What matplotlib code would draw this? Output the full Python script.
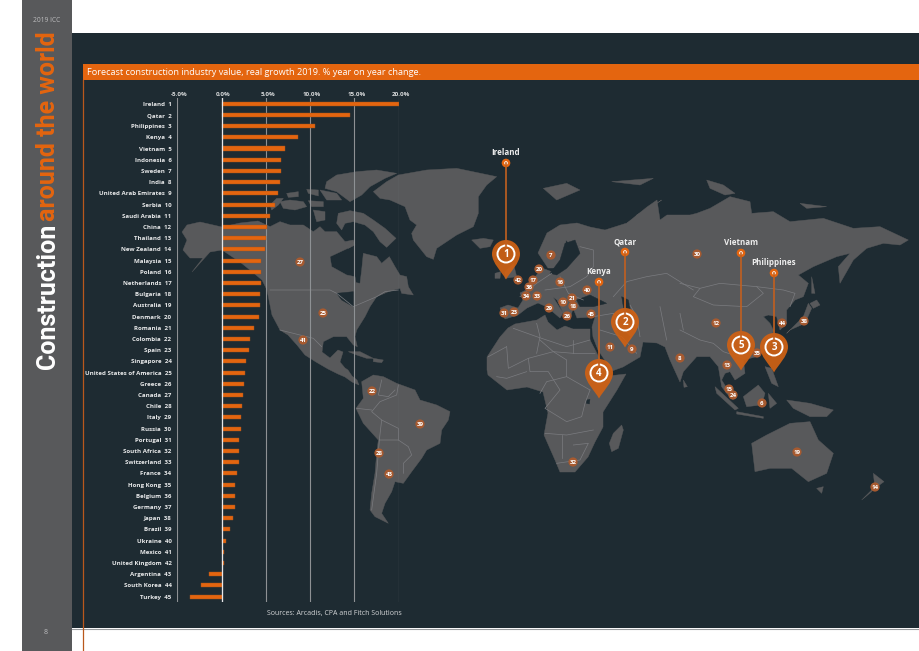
import matplotlib
matplotlib.use("Agg")
import matplotlib.pyplot as plt
from matplotlib.patches import Polygon, Circle, Rectangle, PathPatch
from matplotlib.path import Path
from matplotlib.transforms import ScaledTranslation

plt.rcParams['font.family'] = ['Open Sans', 'DejaVu Sans']

# ---------------------------
# Data
# ---------------------------

countries = ["Ireland", "Qatar", "Philippines", "Kenya", "Vietnam", "Indonesia", "Sweden", "India",
             "United Arab Emirates", "Serbia", "Saudi Arabia", "China", "Thailand", "New Zealand",
             "Malaysia", "Poland", "Netherlands", "Bulgaria", "Australia", "Denmark", "Romania",
             "Colombia", "Spain", "Singapore", "United States of America", "Greece", "Canada",
             "Chile", "Italy", "Russia", "Portugal", "South Africa", "Switzerland", "France",
             "Hong Kong", "Belgium", "Germany", "Japan", "Brazil", "Ukraine", "Mexico",
             "United Kingdom", "Argentina", "South Korea", "Turkey"]
growth = [20.0, 14.5, 10.5, 8.6, 7.2, 6.7, 6.7, 6.65, 6.4, 6.0, 5.5, 5.1, 5.0, 4.9, 4.5, 4.45,
          4.4, 4.35, 4.3, 4.2, 3.7, 3.2, 3.05, 2.8, 2.6, 2.5, 2.4, 2.25, 2.15, 2.15, 2.0, 2.0,
          2.0, 1.7, 1.55, 1.5, 1.5, 1.25, 1.0, 0.45, 0.22, 0.22, -1.43, -2.3, -3.6]
x_ticks = [-5, 0, 5, 10, 15, 20]

top_names = ["Ireland", "Qatar", "Kenya", "Vietnam", "Philippines"]
top_ranks = [1, 2, 4, 5, 3]

# ---------------------------
# Colours and page layout (pixels)
# ---------------------------

W, H = 920, 651
BG = "#1e2b32"
LAND = "#58595b"
BORDER = "#7b7c80"
ORANGE = "#e4650f"
MARK = "#a65a30"

# map badges: rank, x, y in page pixels
badges = [(27, 300, 262), (25, 323, 313), (41, 303, 340), (22, 372, 391), (39, 420, 424),
          (28, 379, 453), (43, 389, 474), (7, 551, 255), (20, 539, 269), (42, 518, 280),
          (17, 533, 280), (36, 529, 287), (34, 526, 296), (33, 537, 296), (16, 560, 282),
          (40, 587, 290), (21, 572, 298), (10, 563, 302), (18, 573, 306), (29, 549, 308),
          (26, 567, 316), (45, 591, 314), (31, 504, 313), (23, 514, 312), (11, 610, 347),
          (9, 632, 349), (8, 680, 358), (30, 697, 254), (12, 716, 323), (44, 782, 323),
          (38, 804, 321), (35, 757, 353), (13, 727, 365), (15, 729, 389), (24, 733, 395),
          (6, 762, 403), (19, 797, 452), (14, 875, 487), (32, 573, 462)]

# pin head x, y and the top dot y
pin_x = [506, 625, 599, 741, 774]
pin_y = [254, 322, 373, 345, 347]
dot_y = [163, 252, 282, 253, 273]


def z(x0, y0, coords):
    return [(x0 + a / 3, y0 + b / 3) for a, b in coords]


# ---------------------------
# Map outlines
# ---------------------------

land = [
    # north america
    [(182, 232), (187, 225), (200, 222), (222, 227), (240, 223), (258, 221)] + z(270, 160, [
        (0, 200), (30, 185), (60, 195), (100, 195), (130, 215), (150, 200), (165, 215), (200, 215),
        (225, 245), (240, 262), (180, 290), (185, 320), (230, 345), (255, 350), (258, 368), (270, 370),
        (275, 330), (280, 280), (320, 290), (335, 310), (358, 290), (375, 320), (390, 345), (410, 350),
        (415, 380), (430, 405), (395, 400), (390, 385), (355, 395), (320, 410), (300, 440), (285, 470),
        (260, 510), (255, 530), (262, 560), (250, 555), (230, 530), (190, 530), (160, 545)])
    + [(322, 352), (330, 358), (338, 350), (343, 352), (340, 362), (345, 368), (348, 370), (352, 376),
       (357, 380), (359, 385), (352, 382), (345, 377), (338, 374), (328, 369), (316, 362), (305, 355),
       (297, 345), (288, 335), (280, 330), (272, 315), (267, 290), (262, 280), (250, 270), (240, 262),
       (222, 250), (210, 252), (192, 272), (203, 258), (190, 258), (183, 250), (187, 240)],
    # arctic islands
    z(270, 160, [(30, 125), (60, 120), (100, 125), (110, 140), (75, 150), (40, 145)]),
    z(270, 160, [(0, 135), (20, 115), (40, 115), (25, 135), (5, 150)]),
    z(270, 160, [(50, 100), (85, 95), (85, 110), (55, 112)]),
    z(270, 160, [(110, 88), (145, 90), (145, 108), (115, 100)]),
    z(270, 160, [(115, 122), (160, 125), (160, 140), (125, 140)]),
    z(270, 160, [(150, 90), (200, 100), (215, 120), (170, 120)]),
    z(270, 160, [(130, 150), (165, 155), (165, 180), (140, 185)]),
    z(270, 160, [(205, 160), (240, 152), (280, 160), (310, 180), (345, 205), (378, 235), (350, 262),
                 (330, 245), (310, 215), (285, 195), (250, 185), (225, 190), (215, 210), (200, 190)]),
    z(270, 160, [(225, 245), (250, 240), (255, 255), (235, 265)]),
    z(270, 160, [(170, 65), (200, 45), (260, 35), (320, 30), (380, 40), (345, 55), (300, 80), (275, 105),
                 (240, 125), (200, 95), (165, 85)]),
    # greenland, iceland
    z(270, 160, [(310, 95), (350, 65), (385, 45), (470, 30), (560, 25), (680, 50), (650, 75), (625, 110),
                 (625, 160), (610, 200), (560, 225), (500, 265), (490, 298), (470, 290), (430, 240),
                 (425, 220), (440, 195), (420, 180), (405, 140), (360, 120), (330, 115)]),
    z(270, 160, [(605, 240), (640, 235), (670, 240), (660, 260), (630, 265)]),
    # caribbean
    z(340, 340, [(25, 35), (60, 35), (100, 55), (80, 55), (50, 45)]),
    z(340, 340, [(100, 55), (130, 60), (125, 68), (100, 65)]),
    # south america
    z(340, 340, [(65, 125), (100, 105), (130, 110), (170, 130), (225, 150), (240, 180), (290, 195),
                 (330, 215), (325, 240), (305, 270), (300, 310), (260, 330), (245, 355), (215, 395),
                 (190, 430), (165, 425), (155, 455), (135, 490), (125, 520), (145, 550), (105, 530),
                 (90, 510), (95, 460), (105, 400), (110, 340), (115, 300), (70, 250), (48, 205), (70, 175)]),
    # africa
    [(500, 337), (487, 357), (487, 370), (488, 375), (507, 390), (527, 387), (543, 392), (548, 413),
     (544, 435), (555, 460), (560, 472), (575, 472), (588, 457), (595, 442), (603, 427), (603, 412),
     (617, 390), (626, 374), (608, 376), (602, 363), (590, 340), (590, 329), (573, 329), (565, 326),
     (557, 330), (548, 322), (545, 315), (537, 320), (515, 324), (508, 328)],
    # eurasia
    [(500, 308), (508, 305), (518, 308), (523, 300), (520, 293), (532, 287), (535, 277), (542, 268),
     (555, 273), (567, 267), (577, 253), (566, 240), (565, 252), (556, 268), (548, 268), (538, 253),
     (547, 233), (560, 225), (577, 223), (590, 227), (605, 230), (627, 223), (647, 207), (657, 200),
     (660, 220), (667, 215), (690, 215)]
    + z(680, 160, [(50, 160), (90, 145), (150, 110), (210, 125), (215, 160), (280, 155), (330, 185),
                   (430, 175), (520, 205), (600, 200), (685, 240), (660, 255), (610, 250), (560, 265),
                   (520, 300), (480, 370), (475, 320), (510, 280), (470, 290), (400, 320), (355, 345),
                   (385, 370), (370, 410), (345, 420), (320, 450), (320, 490), (300, 510), (290, 470),
                   (265, 465), (250, 470), (270, 490), (280, 510), (270, 560), (230, 590), (190, 600),
                   (195, 640), (165, 660), (150, 635), (135, 640), (125, 660), (150, 700), (160, 720),
                   (140, 700), (125, 680), (115, 620), (90, 590), (50, 590), (10, 635)])
    + [(680, 382), (670, 360), (665, 347), (657, 343), (643, 342), (640, 357), (623, 367), (612, 371),
       (598, 350), (593, 337), (592, 327), (595, 317), (577, 318), (573, 308), (570, 320), (565, 317),
       (557, 300), (553, 297), (563, 313), (560, 318), (547, 307), (538, 303), (527, 308), (518, 315),
       (505, 319)],
    # uk, ireland
    z(480, 140, [(75, 395), (100, 370), (110, 410), (75, 415)]),
    z(480, 140, [(45, 400), (62, 395), (60, 415), (45, 415)]),
    # islands
    z(680, 160, [(320, 520), (370, 470), (385, 430), (395, 445), (375, 490), (330, 510)]),
    z(680, 160, [(390, 430), (410, 420), (420, 435), (400, 445)]),
    z(680, 160, [(395, 350), (405, 400), (395, 400)]),
    z(680, 160, [(255, 620), (275, 625), (295, 680), (275, 670)]),
    z(680, 160, [(190, 710), (235, 675), (255, 700), (245, 735), (200, 740)]),
    z(680, 160, [(105, 680), (175, 745), (165, 750), (110, 700)]),
    z(680, 160, [(170, 755), (250, 770), (250, 775), (170, 762)]),
    z(680, 160, [(265, 700), (290, 730), (270, 745)]),
    z(680, 160, [(320, 720), (390, 730), (460, 750), (440, 770), (390, 770), (340, 745)]),
    z(680, 160, [(215, 850), (260, 825), (330, 790), (390, 785), (415, 840), (460, 880), (440, 940),
                 (385, 965), (335, 925), (270, 925), (225, 935)]),
    z(680, 160, [(410, 985), (430, 980), (425, 1000)]),
    z(680, 160, [(580, 940), (612, 965), (585, 985)]),
    z(680, 160, [(580, 985), (545, 1020), (575, 995)]),
    z(680, 160, [(10, 660), (22, 680), (12, 682)]),
    z(520, 360, [(305, 195), (310, 210), (295, 265), (275, 275), (268, 250), (280, 220)]),
    z(480, 140, [(440, 250), (545, 180), (530, 190), (470, 225), (450, 255)]),
    z(480, 140, [(190, 145), (260, 130), (300, 150), (230, 180)]),
    z(480, 140, [(395, 125), (520, 115), (480, 135)]),
    z(680, 160, [(80, 60), (130, 75), (165, 100), (135, 105), (90, 85)]),
    z(680, 160, [(360, 130), (440, 140), (380, 145)]),
]

water = [
    z(480, 140, [(210, 400), (240, 360), (255, 310), (285, 300), (300, 340), (260, 385), (230, 405)]),
    z(480, 140, [(290, 480), (330, 465), (380, 490), (340, 500), (300, 500)]),
    z(480, 140, [(425, 470), (445, 480), (455, 530), (435, 530)]),
    z(480, 140, [(400, 540), (450, 590), (440, 610), (420, 590)]),
    z(270, 160, [(255, 205), (275, 200), (305, 235), (285, 255), (260, 240)]),
    z(270, 160, [(200, 400), (250, 395), (250, 440), (215, 420)]),
    z(520, 360, [(200, 120), (210, 118), (208, 132), (199, 130)]),
]

borders = [
    z(270, 160, [(0, 390), (180, 390), (200, 400), (250, 440), (320, 410), (345, 395), (385, 390)]),
    z(270, 160, [(30, 510), (90, 525), (130, 535), (155, 560)]),
    z(340, 340, [(125, 120), (115, 165), (145, 170), (165, 150)]),
    z(340, 340, [(175, 135), (170, 165), (120, 185), (95, 215), (125, 240), (175, 265), (175, 300),
                 (205, 320), (215, 345), (190, 370), (190, 400)]),
    z(340, 340, [(118, 300), (110, 400), (95, 510)]),
    z(340, 340, [(125, 240), (118, 300), (175, 300)]),
    z(340, 340, [(50, 205), (95, 210)]),
    z(340, 340, [(500, 20), (505, 85), (565, 55), (640, 35), (680, 60), (680, 110), (750, 150)]),
    z(340, 340, [(565, 55), (570, 95), (625, 95), (660, 150), (615, 205), (680, 245), (725, 230),
                 (735, 190), (750, 150)]),
    z(340, 340, [(615, 280), (680, 285), (760, 270)]),
    z(340, 340, [(665, 285), (665, 355)]),
    z(340, 340, [(700, 315), (745, 310), (720, 360), (650, 370)]),
    z(340, 340, [(600, 0), (640, 35), (700, 40), (765, 40)]),
    z(340, 340, [(700, 0), (700, 40)]),
    z(340, 340, [(445, 50), (500, 20)]),
    z(340, 340, [(470, 110), (500, 115), (560, 95)]),
    z(340, 340, [(680, 110), (620, 125), (600, 160)]),
    z(480, 140, [(170, 550), (180, 590), (170, 640)]),
    z(480, 140, [(100, 565), (170, 590), (260, 620), (330, 600)]),
    z(480, 140, [(400, 470), (440, 425), (500, 410), (560, 400), (640, 450)]),
    z(680, 160, [(0, 370), (60, 385), (120, 370), (230, 380), (310, 390), (345, 400), (330, 440)]),
    z(680, 160, [(60, 385), (40, 410), (100, 435), (200, 440), (250, 400), (230, 380)]),
    z(680, 160, [(0, 510), (60, 540), (100, 550), (130, 575), (190, 595)]),
    z(680, 160, [(0, 460), (10, 510)]),
    z(480, 140, [(450, 495), (470, 530), (480, 590)]),
    z(480, 140, [(540, 500), (560, 600)]),
    z(480, 140, [(400, 520), (420, 560)]),
    z(480, 140, [(120, 470), (170, 430), (215, 400)]),
    z(480, 140, [(195, 450), (270, 440), (320, 410), (340, 380), (340, 330), (300, 320)]),
    z(480, 140, [(265, 460), (310, 480)]),
    z(480, 140, [(240, 410), (265, 460)]),
    z(480, 140, [(360, 570), (425, 590), (470, 640)]),
    z(480, 140, [(340, 530), (400, 520)]),
]

# ---------------------------
# Figure
# ---------------------------

fig = plt.figure(figsize=(W / 100, H / 100), dpi=100, facecolor="white")
page = fig.add_axes([0, 0, 1, 1], zorder=1)
page.set_xlim(0, W)
page.set_ylim(H, 0)
page.axis("off")

page.add_patch(Rectangle((72, 33), W - 70, 595, color=BG, lw=0))
page.plot([72, W], [628.5, 628.5], color="#9a9c9e", lw=0.8)
page.add_patch(Rectangle((22, 0), 50, H, color=LAND, lw=0))

for shape in land:
    page.add_patch(Polygon(shape, closed=True, fc=LAND, ec=LAND, lw=0.3))
for shape in water:
    page.add_patch(Polygon(shape, closed=True, fc=BG, ec=BG, lw=0.3))
for line in borders:
    page.plot([p[0] for p in line], [p[1] for p in line], color=BORDER, lw=0.5)

page.add_patch(Rectangle((83, 64), W - 81, 16, color=ORANGE, lw=0))
page.plot([83, 83], [80, H], color="#b9581c", lw=0.9)

page.text(87, 72.3, "Forecast construction industry value, real growth 2019. % year on year change.",
          color="white", fontsize=6.6, va="center", ha="left")
page.text(47, 21, "2019 ICC", color="#bdbdbf", fontsize=4.8, ha="center", va="center")
page.text(46, 632, "8", color="#bdbdbf", fontsize=5, ha="center", va="center")
page.text(48.5, 369, "Construction", color="white", fontsize=18, fontweight="bold", family="Roboto",
          rotation=90, ha="center", va="bottom")
page.text(48.5, 221, "around the world", color=ORANGE, fontsize=18, fontweight="bold", family="Roboto",
          rotation=90, ha="center", va="bottom")
page.text(334.5, 614, "Sources: Arcadis, CPA and Fitch Solutions", color="#d4d6d8", fontsize=5,
          ha="center", va="center")

# ---------------------------
# Bars
# ---------------------------

x0, x1 = 177.3, 398.7
y0, y1 = 98.0, 601.7
ax = fig.add_axes([x0 / W, 1 - y1 / H, (x1 - x0) / W, (y1 - y0) / H], zorder=2)
ax.patch.set_alpha(0)
ranks = list(range(1, len(countries) + 1))
ax.barh(ranks, growth, height=0.36, color=ORANGE, edgecolor="#9c5222", linewidth=0.3, zorder=3)
ax.set_xlim(-5, 20)
ax.set_ylim(45.46, 0.49)
ax.set_xticks(x_ticks)
ax.set_xticklabels([f"{v:.1f}%" for v in x_ticks])
ax.xaxis.tick_top()
ax.set_yticks(ranks)
ax.set_yticklabels([f"{c}  {r}" for c, r in zip(countries, ranks)])
ax.tick_params(axis="x", length=0, pad=1.0, labelsize=4.5, labelcolor="#d8dadb")
ax.tick_params(axis="y", length=0, pad=4.2, labelsize=4.4, labelcolor="#e8e9ea")
shift = ScaledTranslation(2 / 100, 0, fig.dpi_scale_trans)
for t in ax.get_xticklabels():
    t.set_fontweight("bold")
    t.set_transform(t.get_transform() + shift)
for t in ax.get_yticklabels():
    t.set_fontweight("bold")
for s in ax.spines.values():
    s.set_visible(False)
ax.grid(axis="x", color="#8e9194", lw=0.8, zorder=2)
ax.axvline(0, color="#e6e7e8", lw=0.9, zorder=4)

# ---------------------------
# Badges and pins on top
# ---------------------------

top = fig.add_axes([0, 0, 1, 1], zorder=3)
top.set_xlim(0, W)
top.set_ylim(H, 0)
top.axis("off")

for rank, bx, by in badges:
    top.add_patch(Circle((bx, by), 4.6, fc=MARK, ec="none"))
    top.text(bx, by + 0.2, str(rank), color="white", fontsize=4.4, fontweight="bold", ha="center", va="center")

for name, rank, px, py, dy in zip(top_names, top_ranks, pin_x, pin_y, dot_y):
    top.plot([px, px], [dy, py], color="#c2601f", lw=1.2)
    top.add_patch(Circle((px, dy), 4.3, fc=ORANGE, ec="none"))
    top.add_patch(Circle((px, dy), 1.8, fc="white", ec="none"))
    top.text(px, dy - 10.5, name, color="#eeeeee", fontsize=5.8, fontweight="bold", ha="center", va="center")
    # teardrop pin
    r, tip = 14, 25.5
    k = 0.5523 * r
    verts = [(px, py + tip), (px - 4, py + 18), (px - r, py + 9), (px - r, py),
             (px - r, py - k), (px - k, py - r), (px, py - r),
             (px + k, py - r), (px + r, py - k), (px + r, py),
             (px + r, py + 9), (px + 4, py + 18), (px, py + tip), (px, py + tip)]
    codes = [Path.MOVETO] + [Path.CURVE4] * 12 + [Path.CLOSEPOLY]
    top.add_patch(PathPatch(Path(verts, codes), fc="#cf6114", ec="none", alpha=0.93))
    top.add_patch(Circle((px, py), 8.5, fc="none", ec="white", lw=1.4))
    top.text(px, py + 0.2, str(rank), color="white", fontsize=7, fontweight="bold", ha="center", va="center")

fig.savefig("out.png", dpi=100)
